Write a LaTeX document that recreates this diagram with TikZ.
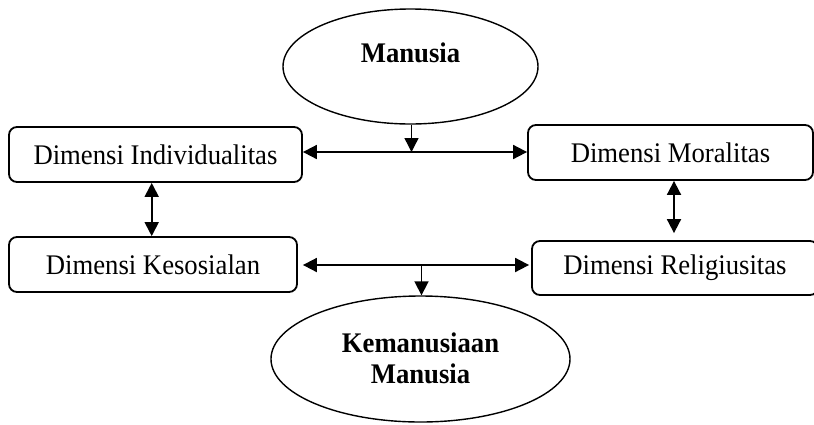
\documentclass[tikz,border=0pt]{standalone}
\usepackage{fontspec}
\setmainfont[FakeStretch=0.94]{Liberation Serif}
\usetikzlibrary{shapes.geometric,arrows.meta}
\tikzset{
  dimbox/.style={draw, line width=1.8pt, rounded corners=8pt, rectangle, inner sep=0pt,
    font=\fontsize{28.4}{32}\selectfont},
  oval/.style={draw, line width=1.4pt, ellipse, inner sep=0pt},
  boldtxt/.style={font=\fontsize{28.4}{31}\bfseries\selectfont, align=center, inner sep=0pt},
  conn/.style={line width=1.8pt, -{Triangle[length=14pt,width=14pt]}},
  biconn/.style={line width=1.8pt, {Triangle[length=14pt,width=14pt]}-{Triangle[length=14pt,width=14pt]}}
}
\begin{document}
\begin{tikzpicture}[x=1pt,y=-1pt]
\clip (0,0) rectangle (814,424);
\fill[white] (0,0) rectangle (814,424);
% ellipses
\node[oval, minimum width=255pt, minimum height=115pt] (man) at (410.5,66.5) {};
\node[boldtxt] (mantxt) at (410.5,53) {Manusia};
\node[oval, minimum width=299pt, minimum height=126pt] (kem) at (420.5,359) {};
\node[boldtxt] (kemtxt) at (420.5,358) {Kemanusiaan\\Manusia};
% boxes
\node[dimbox, minimum width=293pt, minimum height=55pt] (b1) at (155.5,154.5) {Dimensi Individualitas};
\node[dimbox, minimum width=288pt, minimum height=55pt] (b2) at (153,264.5) {Dimensi Kesosialan};
\node[dimbox, minimum width=285pt, minimum height=55pt] (b3) at (670.5,152.5) {Dimensi Moralitas};
\node[dimbox, minimum width=286pt, minimum height=54pt] (b4) at (675,268) {Dimensi Religiusitas};
% junctions
\coordinate (j1) at (411.5,152);
\coordinate (j2) at (421.5,265);
% connectors
\draw[conn, line width=1.4pt] (man.south -| j1) -- (j1);
\draw[biconn] (b1.east |- j1) -- (b3.west |- j1);
\draw[biconn] ([xshift=-3.8pt]b1.south) -- ([xshift=-1.3pt]b2.north);
\draw[biconn] ([xshift=3.5pt]b3.south) -- ([xshift=-1pt,yshift=7pt]b4.north);
\draw[biconn] ([xshift=5pt]b2.east |- j2) -- ([xshift=-2pt]b4.west |- j2);
\draw[conn] (j2) -- (kem.north -| j2);
\end{tikzpicture}
\end{document}
